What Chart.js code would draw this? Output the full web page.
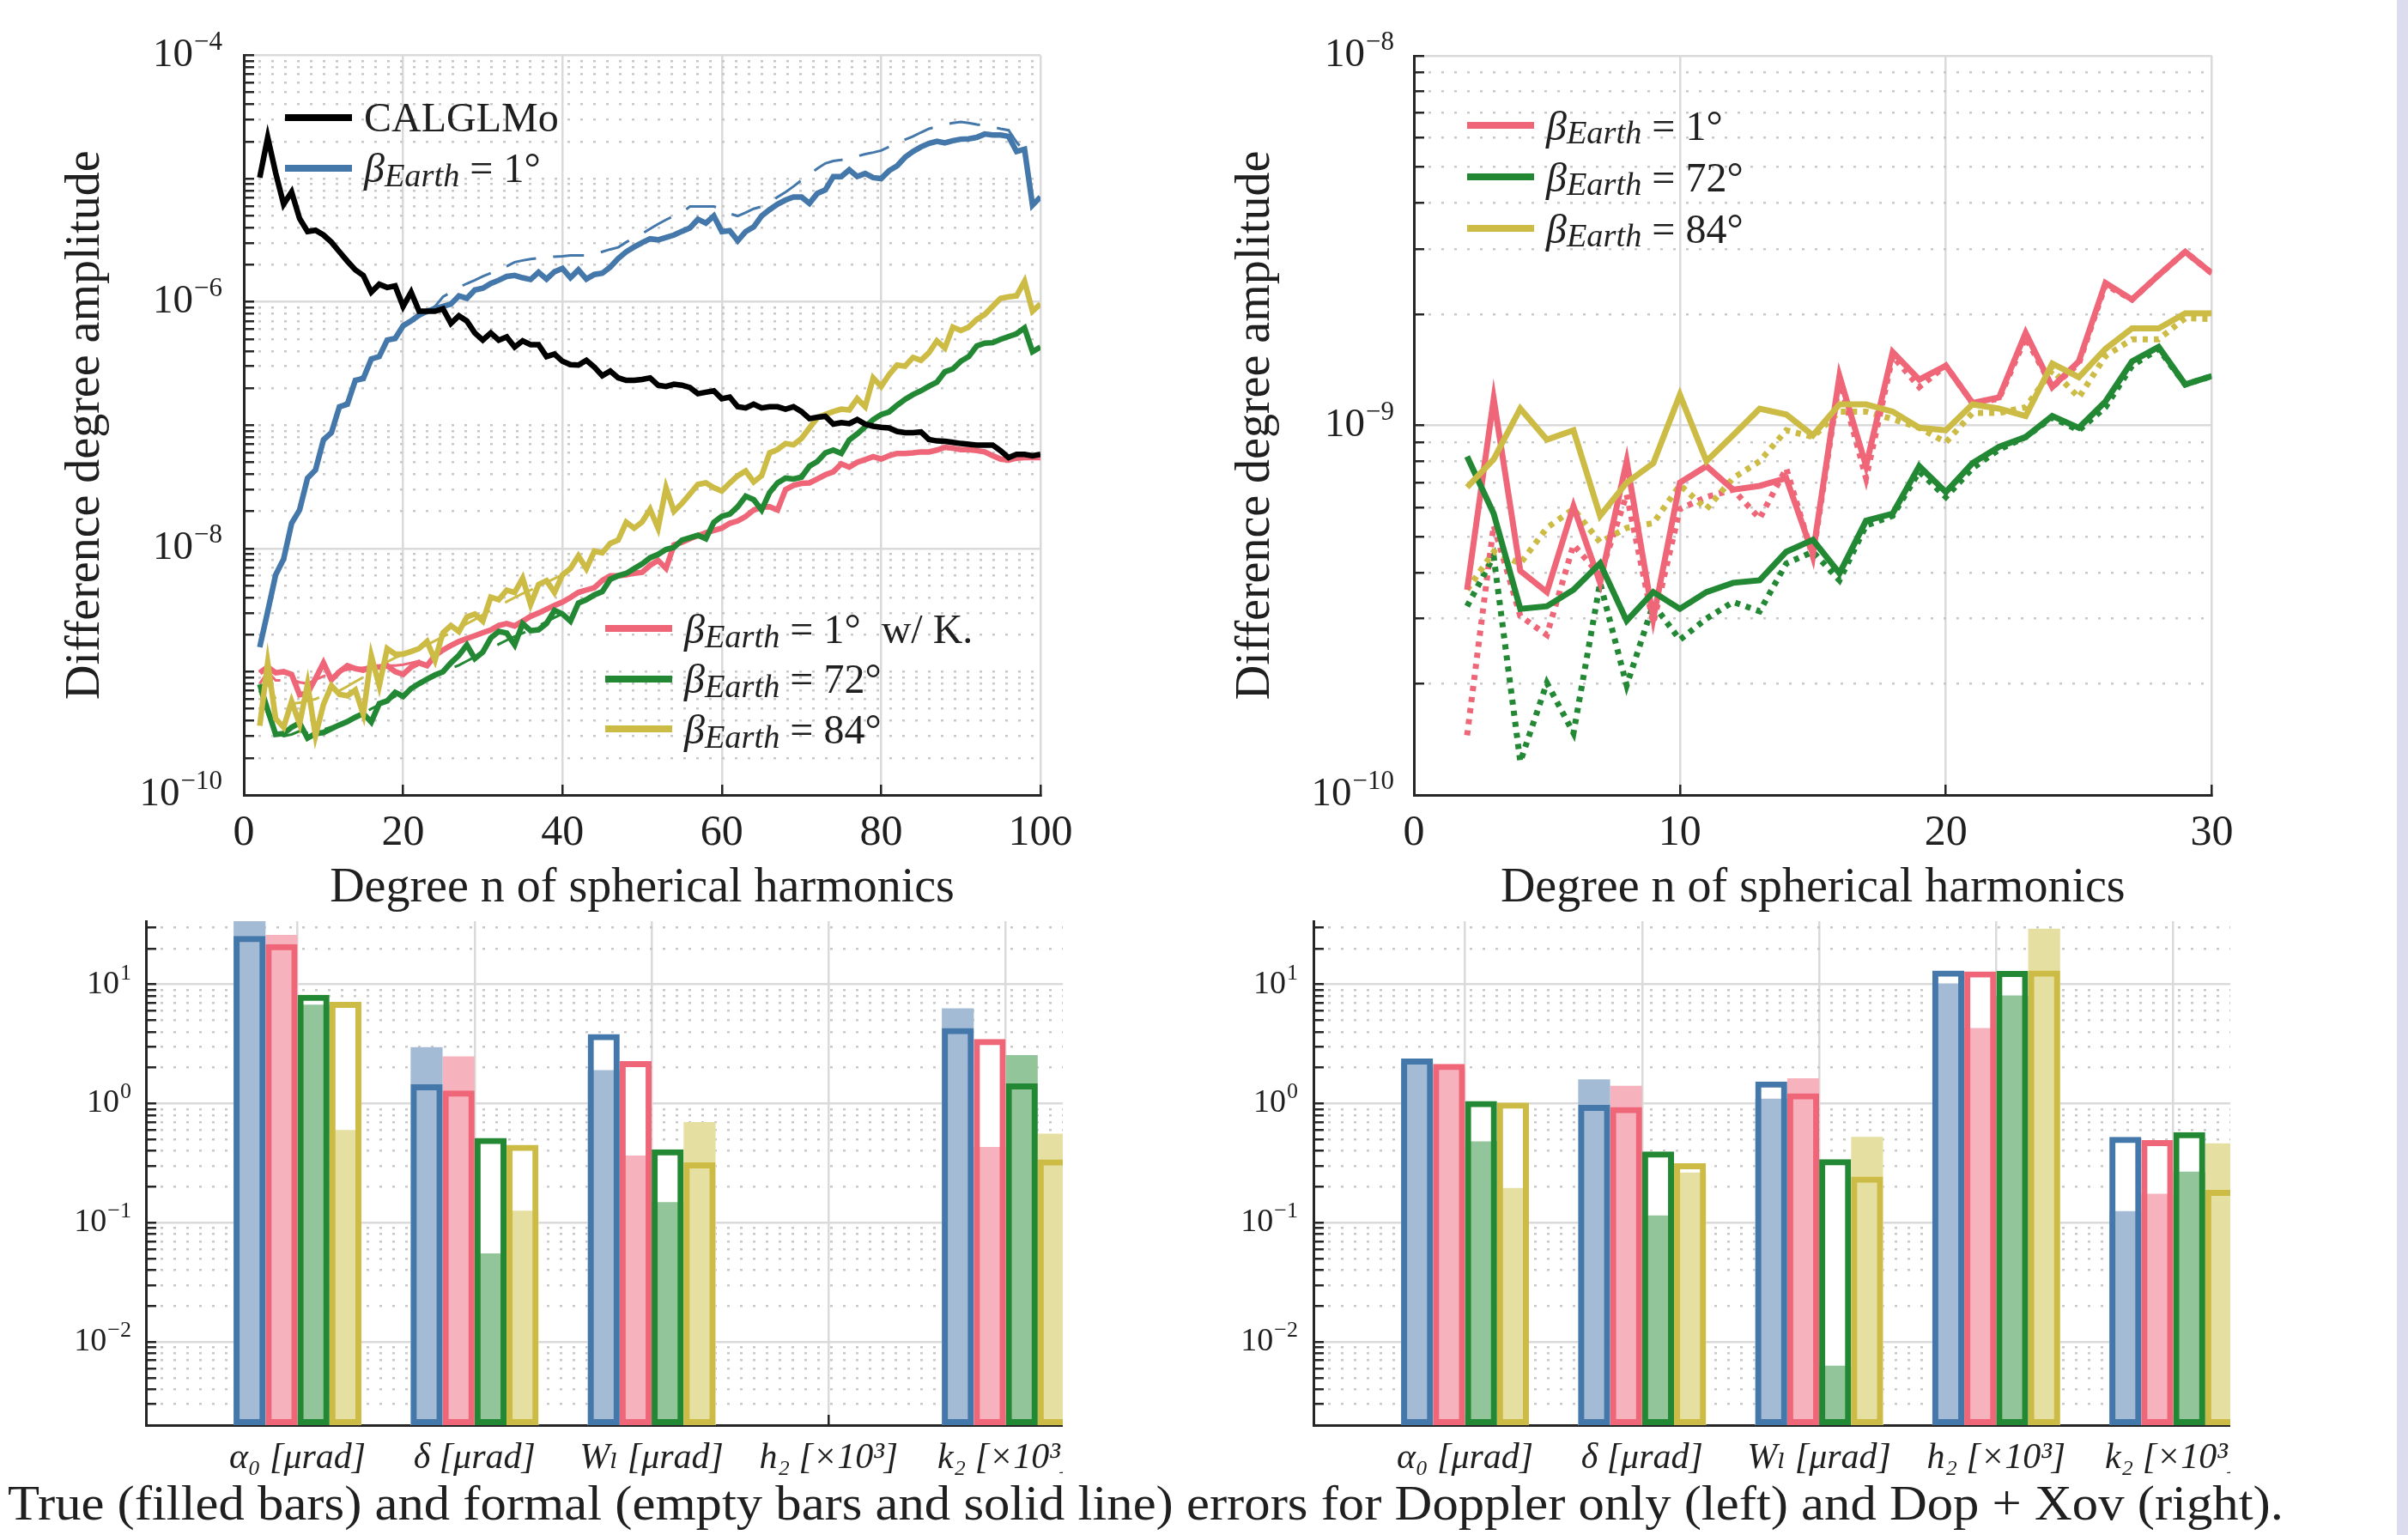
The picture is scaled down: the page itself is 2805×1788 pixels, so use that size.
<!DOCTYPE html>
<html>
<head>
<meta charset="utf-8">
<title>Difference degree amplitudes and parameter errors</title>
<script src="https://cdn.jsdelivr.net/npm/chart.js@4.4.1/dist/chart.umd.min.js"></script>
<style>
  html, body { margin: 0; padding: 0; }
  body { width: 2805px; height: 1788px; position: relative; overflow: hidden; background: #fff;
         font-family: "Liberation Serif", "DejaVu Serif", serif; color: #1f1f1f; }
  canvas { position: absolute; }
  #topLeft { left: 0; top: 0; }
  #topRight { left: 1400px; top: 0; }
  #bottomLeft { left: 0; top: 1060px; }
  #bottomRight { left: 1400px; top: 1060px; }
  .legend { position: absolute; font-size: 48px; }
  .legend .row { display: flex; align-items: center; white-space: nowrap; }
  .legend .swatch { width: 78px; height: 8px; margin-right: 14px; flex: none; }
  .legend sub { font-size: 0.8em; position: relative; top: 0.22em; vertical-align: baseline; line-height: 0; }
  #legendA1 { left: 332px; top: 107px; }
  #legendA1 .row { height: 59px; }
  #legendA2 { left: 705px; top: 703px; }
  #legendA2 .row { height: 58.5px; }
  #legendB { left: 1709px; top: 116px; }
  #legendB .row { height: 60px; }
  #caption { position: absolute; left: 9px; top: 1723px; font-size: 57px; line-height: 56px;
             white-space: nowrap; transform-origin: left top; }
  #edge { position: absolute; left: 2792px; top: 0; width: 13px; height: 1788px; background: #dcdcee; }
</style>
</head>
<body>
<canvas id="topLeft" width="1260" height="1080"></canvas>
<canvas id="topRight" width="1250" height="1080"></canvas>
<canvas id="bottomLeft" width="1238" height="680"></canvas>
<canvas id="bottomRight" width="1198" height="680"></canvas>

<div class="legend" id="legendA1">
  <div class="row"><span class="swatch" style="background:#000"></span>CALGLMo</div>
  <div class="row"><span class="swatch" style="background:#4477aa"></span><i>β</i><sub><i>Earth</i></sub>&nbsp;=&nbsp;1°</div>
</div>
<div class="legend" id="legendA2">
  <div class="row"><span class="swatch" style="background:#ee6677"></span><i>β</i><sub><i>Earth</i></sub>&nbsp;=&nbsp;1°&nbsp; w/ K.</div>
  <div class="row"><span class="swatch" style="background:#228833"></span><i>β</i><sub><i>Earth</i></sub>&nbsp;=&nbsp;72°</div>
  <div class="row"><span class="swatch" style="background:#ccbb44"></span><i>β</i><sub><i>Earth</i></sub>&nbsp;=&nbsp;84°</div>
</div>
<div class="legend" id="legendB">
  <div class="row"><span class="swatch" style="background:#ee6677"></span><i>β</i><sub><i>Earth</i></sub>&nbsp;=&nbsp;1°</div>
  <div class="row"><span class="swatch" style="background:#228833"></span><i>β</i><sub><i>Earth</i></sub>&nbsp;=&nbsp;72°</div>
  <div class="row"><span class="swatch" style="background:#ccbb44"></span><i>β</i><sub><i>Earth</i></sub>&nbsp;=&nbsp;84°</div>
</div>
<div id="caption">True (filled bars) and formal (empty bars and solid line) errors for Doppler only (left) and Dop + Xov (right).</div>
<div id="edge"></div>

<script>
// ---- top left: degree amplitudes, Doppler only (n = 2..100) ----
const degreesA = [2,3,4,5,6,7,8,9,10,11,12,13,14,15,16,17,18,19,20,21,22,23,24,25,26,27,28,29,30,31,32,33,34,35,36,37,38,39,40,41,42,43,44,45,46,47,48,49,50,51,52,53,54,55,56,57,58,59,60,61,62,63,64,65,66,67,68,69,70,71,72,73,74,75,76,77,78,79,80,81,82,83,84,85,86,87,88,89,90,91,92,93,94,95,96,97,98,99,100];

const calglmo = [1.02e-5,2.16e-5,1.11e-5,6.2e-6,7.8e-6,4.76e-6,3.72e-6,3.81e-6,3.49e-6,3.05e-6,2.55e-6,2.14e-6,1.82e-6,1.64e-6,1.2e-6,1.39e-6,1.31e-6,1.35e-6,9.2e-7,1.2e-6,8.4e-7,8.4e-7,8.4e-7,8.8e-7,6.7e-7,7.7e-7,7.0e-7,5.6e-7,4.9e-7,5.6e-7,4.9e-7,5.2e-7,
  4.3e-7,4.83e-7,4.5e-7,4.5e-7,3.6e-7,3.77e-7,3.3e-7,3.1e-7,3.07e-7,3.36e-7,2.96e-7,2.52e-7,2.75e-7,2.42e-7,2.31e-7,2.31e-7,2.35e-7,2.42e-7,2.11e-7,2.06e-7,2.15e-7,2.11e-7,2.02e-7,1.8e-7,1.85e-7,1.9e-7,1.64e-7,1.69e-7,1.41e-7,1.38e-7,1.48e-7,1.38e-7,1.41e-7,
  1.41e-7,1.35e-7,1.41e-7,1.29e-7,1.13e-7,1.16e-7,1.18e-7,1.02e-7,1.05e-7,1.03e-7,1.11e-7,1.02e-7,9.8e-8,9.6e-8,9.5e-8,8.9e-8,8.7e-8,8.7e-8,8.8e-8,7.65e-8,7.45e-8,7.4e-8,7.25e-8,7.1e-8,7.0e-8,6.9e-8,6.9e-8,6.9e-8,6.2e-8,5.45e-8,5.8e-8,5.8e-8,5.65e-8,5.8e-8];

const beta1True = [1.58e-9,3.08e-9,6.1e-9,8.2e-9,1.6e-8,2.05e-8,3.72e-8,4.33e-8,7.6e-8,8.7e-8,1.41e-7,1.48e-7,2.31e-7,2.39e-7,3.44e-7,3.6e-7,4.9e-7,5.05e-7,6.4e-7,7.0e-7,7.8e-7,8.4e-7,8.8e-7,9.2e-7,9.6e-7,1.12e-6,1.07e-6,1.25e-6,1.29e-6,1.41e-6,1.5e-6,1.61e-6,1.64e-6,
  1.57e-6,1.52e-6,1.74e-6,1.53e-6,1.76e-6,1.87e-6,1.57e-6,1.82e-6,1.53e-6,1.67e-6,1.71e-6,1.92e-6,2.25e-6,2.55e-6,2.79e-6,3.03e-6,3.25e-6,3.19e-6,3.33e-6,3.49e-6,3.74e-6,3.98e-6,4.68e-6,4.36e-6,4.98e-6,3.72e-6,3.78e-6,3.13e-6,3.72e-6,4.06e-6,4.98e-6,5.6e-6,
  6.2e-6,6.7e-6,7.1e-6,7.1e-6,6.3e-6,7.6e-6,8.1e-6,1.04e-5,1.04e-5,1.18e-5,1.04e-5,1.1e-5,1.02e-5,1.0e-5,1.16e-5,1.27e-5,1.49e-5,1.66e-5,1.81e-5,1.93e-5,2.01e-5,1.95e-5,2.03e-5,2.09e-5,2.1e-5,2.16e-5,2.3e-5,2.26e-5,2.26e-5,2.2e-5,1.66e-5,1.73e-5,6.1e-6,7.1e-6];

const beta1Formal = [1.7e-9,3.2e-9,6.1e-9,8.6e-9,1.6e-8,2.1e-8,3.7e-8,4.5e-8,7.6e-8,9.0e-8,1.41e-7,1.55e-7,2.31e-7,2.5e-7,3.44e-7,3.7e-7,4.9e-7,5.2e-7,6.4e-7,7.0e-7,7.8e-7,8.4e-7,
  9.2e-7,1.1e-6,1.2e-6,1.31e-6,1.41e-6,1.5e-6,1.61e-6,1.71e-6,1.84e-6,1.95e-6,2.1e-6,2.17e-6,2.23e-6,2.27e-6,2.29e-6,2.33e-6,2.35e-6,2.38e-6,2.38e-6,2.38e-6,
  2.46e-6,2.55e-6,2.67e-6,2.77e-6,3.05e-6,3.33e-6,3.58e-6,3.92e-6,4.28e-6,4.64e-6,4.98e-6,5.3e-6,5.94e-6,5.94e-6,5.94e-6,5.94e-6,5.69e-6,5.2e-6,4.98e-6,5.3e-6,
  5.69e-6,5.94e-6,6.34e-6,7.1e-6,7.78e-6,8.65e-6,9.7e-6,1.08e-5,1.21e-5,1.33e-5,1.39e-5,1.42e-5,1.46e-5,1.52e-5,1.58e-5,1.63e-5,1.69e-5,1.81e-5,1.95e-5,2.07e-5,
  2.2e-5,2.37e-5,2.54e-5,2.65e-5,2.75e-5,2.83e-5,2.88e-5,2.83e-5,2.75e-5,2.7e-5,2.63e-5,2.54e-5,2.47e-5,1.98e-5,1.66e-5,7.4e-6,8.1e-6];

const beta1KTrue = [9.8e-10,1.09e-9,9.8e-10,1.0e-9,9.5e-10,6.5e-10,6.7e-10,8.8e-10,1.18e-9,8.6e-10,1.0e-9,1.12e-9,1.06e-9,1.03e-9,1.09e-9,1.09e-9,1.12e-9,1.0e-9,9.5e-10,1.09e-9,1.18e-9,1.12e-9,1.35e-9,1.5e-9,1.63e-9,1.76e-9,1.86e-9,1.96e-9,2.07e-9,2.18e-9,2.37e-9,2.46e-9,
  2.35e-9,2.57e-9,2.81e-9,2.99e-9,3.21e-9,3.45e-9,3.67e-9,4.0e-9,4.4e-9,4.6e-9,4.8e-9,5.5e-9,6.0e-9,6.0e-9,6.1e-9,6.3e-9,6.4e-9,7.3e-9,8.0e-9,6.9e-9,1.07e-8,1.12e-8,1.2e-8,1.27e-8,1.34e-8,1.4e-8,1.46e-8,1.6e-8,1.67e-8,1.82e-8,2.05e-8,2.16e-8,2.18e-8,
  2.05e-8,3.0e-8,3.25e-8,3.37e-8,3.4e-8,3.66e-8,3.96e-8,4.18e-8,4.86e-8,4.56e-8,5.0e-8,5.26e-8,5.55e-8,5.31e-8,5.65e-8,5.9e-8,5.9e-8,5.96e-8,6.07e-8,6.07e-8,6.28e-8,6.62e-8,6.5e-8,6.34e-8,6.34e-8,6.22e-8,6.07e-8,5.65e-8,5.31e-8,5.21e-8,5.4e-8,5.45e-8,5.45e-8,5.45e-8];
const beta1KFormal = [8.0e-10,1.0e-9,8.5e-10,8.5e-10,8.8e-10,8.2e-10,8.0e-10,8.6e-10,9.2e-10,9.6e-10,1.0e-9,1.04e-9,1.06e-9,1.08e-9,1.1e-9,1.1e-9,1.12e-9,1.12e-9,1.14e-9,1.18e-9,1.22e-9,1.3e-9,1.38e-9,1.48e-9,1.6e-9,1.72e-9,1.84e-9,1.95e-9,2.05e-9,2.18e-9,2.32e-9,2.45e-9,2.55e-9,2.65e-9,2.8e-9,3.0e-9,3.2e-9,3.45e-9,3.7e-9];

const beta72True = [7.9e-10,4.9e-10,3.1e-10,3.15e-10,3.54e-10,3.84e-10,2.89e-10,3.15e-10,3.21e-10,3.45e-10,3.7e-10,3.94e-10,4.27e-10,4.58e-10,3.9e-10,5.5e-10,5.8e-10,6.8e-10,6.3e-10,7.3e-10,8.0e-10,8.7e-10,9.4e-10,1.0e-9,1.18e-9,1.36e-9,1.65e-9,1.28e-9,1.44e-9,1.88e-9,2.12e-9,2.06e-9,
  1.65e-9,2.46e-9,2.15e-9,2.19e-9,2.46e-9,3.15e-9,2.94e-9,2.57e-9,3.6e-9,3.84e-9,4.2e-9,4.47e-9,5.63e-9,6.0e-9,6.27e-9,6.86e-9,7.5e-9,8.4e-9,8.95e-9,9.8e-9,1.02e-8,1.17e-8,1.22e-8,1.28e-8,1.2e-8,1.63e-8,1.82e-8,1.9e-8,2.18e-8,2.65e-8,2.49e-8,2.05e-8,2.84e-8,
  3.4e-8,3.72e-8,3.66e-8,3.79e-8,4.65e-8,5.08e-8,5.96e-8,6.28e-8,5.9e-8,7.6e-8,8.5e-8,9.7e-8,1.11e-7,1.22e-7,1.28e-7,1.45e-7,1.62e-7,1.77e-7,1.9e-7,2.07e-7,2.23e-7,2.71e-7,2.86e-7,3.3e-7,3.6e-7,4.39e-7,4.63e-7,4.67e-7,4.97e-7,5.24e-7,5.52e-7,6.15e-7,3.94e-7,4.3e-7];
const beta72Formal = [7.0e-10,4.5e-10,3.2e-10,3.0e-10,3.1e-10,3.3e-10,3.2e-10,3.3e-10,3.4e-10,3.55e-10,3.7e-10,4.0e-10,4.3e-10,4.6e-10,5.0e-10,5.4e-10,5.8e-10,6.3e-10,6.8e-10,7.3e-10,7.9e-10,8.6e-10,9.2e-10,9.9e-10,1.06e-9,1.13e-9,1.22e-9,1.32e-9,1.42e-9,1.53e-9,1.67e-9,1.8e-9,1.93e-9,2.05e-9,2.2e-9,2.35e-9,2.55e-9,2.75e-9,2.95e-9];

const beta84True = [3.64e-10,1.18e-9,4.16e-10,3.54e-10,5.73e-10,3.78e-10,7.9e-10,3.02e-10,5.43e-10,7.7e-10,6.55e-10,6.38e-10,7.1e-10,4.51e-10,1.35e-9,7.7e-10,1.54e-9,1.39e-9,1.39e-9,1.46e-9,1.54e-9,1.76e-9,1.24e-9,2.07e-9,2.37e-9,2.12e-9,2.78e-9,2.94e-9,2.57e-9,4.02e-9,3.84e-9,4.59e-9,
  4.39e-9,5.74e-9,3.52e-9,5.1e-9,5.48e-9,4.39e-9,6.1e-9,6.86e-9,8.7e-9,6.86e-9,9.5e-9,9.2e-9,1.1e-8,1.17e-8,1.63e-8,1.46e-8,1.64e-8,2.08e-8,1.46e-8,3.11e-8,2.0e-8,2.32e-8,2.77e-8,3.31e-8,3.4e-8,3.11e-8,2.92e-8,3.4e-8,3.89e-8,4.25e-8,3.46e-8,3.89e-8,5.96e-8,
  6.34e-8,7.1e-8,6.93e-8,7.8e-8,9.5e-8,1.15e-7,1.22e-7,1.29e-7,1.35e-7,1.33e-7,1.64e-7,1.41e-7,2.42e-7,2.06e-7,2.57e-7,3.07e-7,3.01e-7,3.54e-7,3.36e-7,3.87e-7,4.83e-7,4.23e-7,6.25e-7,5.87e-7,6.25e-7,7.2e-7,7.9e-7,9.2e-7,1.07e-6,1.1e-6,1.12e-6,1.47e-6,8.4e-7,9.6e-7];
const beta84Formal = [6.5e-10,8.0e-10,6.0e-10,5.2e-10,5.5e-10,5.6e-10,5.8e-10,6.0e-10,6.4e-10,6.8e-10,7.0e-10,7.6e-10,8.3e-10,9.0e-10,1.0e-9,1.1e-9,1.2e-9,1.3e-9,1.38e-9,1.46e-9,1.55e-9,1.65e-9,1.78e-9,1.92e-9,2.08e-9,2.25e-9,2.45e-9,2.65e-9,2.9e-9,3.15e-9,3.4e-9,3.7e-9,4.0e-9,4.3e-9,4.6e-9,4.9e-9,5.3e-9,5.7e-9,6.1e-9];

// ---- top right: degree amplitudes, Dop + Xov (n = 2..30) ----
const degreesB = [2,3,4,5,6,7,8,9,10,11,12,13,14,15,16,17,18,19,20,21,22,23,24,25,26,27,28,29,30];
const xovBeta1 = [3.59e-10,1.18e-9,4.04e-10,3.54e-10,6.04e-10,3.75e-10,8.0e-10,3.0e-10,7.0e-10,7.76e-10,6.7e-10,6.86e-10,7.2e-10,4.49e-10,1.36e-9,7.76e-10,1.58e-9,1.33e-9,1.45e-9,1.15e-9,1.19e-9,1.78e-9,1.27e-9,1.49e-9,2.43e-9,2.19e-9,2.55e-9,2.95e-9,2.58e-9];
const xovBeta1Dot = [1.45e-10,5.36e-10,3.05e-10,2.71e-10,4.75e-10,3.93e-10,6.5e-10,2.92e-10,5.94e-10,6.4e-10,6.7e-10,5.6e-10,7.65e-10,4.42e-10,1.33e-9,7.2e-10,1.54e-9,1.27e-9,1.45e-9,1.15e-9,1.18e-9,1.73e-9,1.27e-9,1.47e-9,2.4e-9,2.19e-9,2.55e-9,2.95e-9,2.58e-9];
const xovBeta72 = [8.24e-10,5.77e-10,3.19e-10,3.24e-10,3.59e-10,4.23e-10,2.96e-10,3.54e-10,3.19e-10,3.54e-10,3.75e-10,3.81e-10,4.55e-10,4.9e-10,3.98e-10,5.52e-10,5.77e-10,7.76e-10,6.6e-10,7.9e-10,8.75e-10,9.3e-10,1.06e-9,9.85e-10,1.16e-9,1.49e-9,1.63e-9,1.29e-9,1.36e-9];
const xovBeta72Dot = [3.24e-10,4.42e-10,1.23e-10,2.01e-10,1.47e-10,3.75e-10,1.98e-10,3.28e-10,2.63e-10,3.0e-10,3.33e-10,3.14e-10,4.23e-10,4.55e-10,3.81e-10,5.36e-10,5.69e-10,7.5e-10,6.4e-10,7.65e-10,8.6e-10,9.3e-10,1.05e-9,9.7e-10,1.12e-9,1.45e-9,1.61e-9,1.29e-9,1.36e-9];
const xovBeta84 = [6.8e-10,8.1e-10,1.11e-9,9.15e-10,9.7e-10,5.69e-10,7.0e-10,7.9e-10,1.21e-9,8.0e-10,9.4e-10,1.11e-9,1.07e-9,9.4e-10,1.14e-9,1.14e-9,1.09e-9,9.85e-10,9.7e-10,1.14e-9,1.11e-9,1.06e-9,1.47e-9,1.35e-9,1.61e-9,1.83e-9,1.83e-9,2.01e-9,2.01e-9];
const xovBeta84Dot = [3.59e-10,4.55e-10,4.23e-10,5.28e-10,5.94e-10,4.83e-10,5.28e-10,5.44e-10,6.9e-10,5.94e-10,7.2e-10,8.0e-10,9.7e-10,9.3e-10,1.09e-9,1.09e-9,1.04e-9,9.85e-10,9.0e-10,1.08e-9,1.08e-9,1.12e-9,1.41e-9,1.19e-9,1.54e-9,1.71e-9,1.71e-9,1.95e-9,1.94e-9];

// ---- bottom: parameter errors (null = not estimated) ----
const paramLabels = ['α₀ [μrad]', 'δ [μrad]', 'Wₗ [μrad]', 'h₂ [×10³]', 'k₂ [×10³]'];
const paramPos = [1, 2, 3, 4, 5];

const dopTrueBlue = [40, 2.98, 1.91, null, 6.3];
const dopTruePink = [26.1, 2.49, 0.367, null, 0.433];
const dopTrueGreen = [6.77, 0.0553, 0.149, null, 2.55];
const dopTrueYellow = [0.6, 0.126, 0.70, null, 0.56];
const dopFormalBlue = [25.5, 1.45, 3.83, null, 4.3];
const dopFormalPink = [21.8, 1.29, 2.27, null, 3.49];
const dopFormalGreen = [8.2, 0.514, 0.413, null, 1.48];
const dopFormalYellow = [7.15, 0.45, 0.321, null, 0.34];

const xovTrueBlue = [2.21, 1.6, 1.10, 10.2, 0.125];
const xovTruePink = [1.97, 1.41, 1.63, 4.3, 0.175];
const xovTrueGreen = [0.482, 0.115, 0.0063, 8.1, 0.268];
const xovTrueYellow = [0.196, 0.264, 0.526, 29.4, 0.464];
const xovFormalBlue = [2.39, 0.975, 1.53, 13.1, 0.526];
const xovFormalPink = [2.15, 0.937, 1.22, 12.9, 0.494];
const xovFormalGreen = [1.05, 0.397, 0.342, 13.0, 0.577];
const xovFormalYellow = [1.02, 0.316, 0.244, 13.1, 0.189];

// ---- styling ----
const BLUE = '#4477aa', PINK = '#ee6677', GREEN = '#228833', YELLOW = '#ccbb44';
const BLUE_L = '#a3bbd4', PINK_L = '#f6b3bd', GREEN_L = '#93c59a', YELLOW_L = '#e6dfa2';
const AXIS = '#262626', GRID = '#dadada', MINOR = '#c8c8c8', TEXT = '#1f1f1f';
const MINOR_DASH = [3, 12];
const FONT = '"Liberation Serif", "DejaVu Serif", serif';

Chart.defaults.font.family = FONT;
Chart.defaults.color = TEXT;
Chart.defaults.animation = false;
Chart.defaults.plugins.legend.display = false;
Chart.defaults.plugins.tooltip.enabled = false;

// draws "10" with a raised exponent beside each labelled decade of the y scale
const powerLabels = {
  id: 'powerLabels',
  afterDraw(chart, args, o) {
    const s = chart.scales.y;
    const ctx = chart.ctx;
    ctx.save();
    ctx.fillStyle = TEXT;
    ctx.textBaseline = 'middle';
    ctx.textAlign = 'right';
    for (const t of s.ticks) {
      if (!t.major) continue;
      const y = s.getPixelForValue(t.value);
      const exp = String(Math.round(Math.log10(t.value))).replace('-', '\u2212');
      const right = chart.chartArea.left - o.gap;
      ctx.font = o.sup + 'px ' + FONT;
      const w = ctx.measureText(exp).width;
      ctx.fillText(exp, right, y - o.raise);
      ctx.font = o.base + 'px ' + FONT;
      ctx.fillText('10', right - w - 1, y);
    }
    ctx.restore();
  }
};

function logTicks(minExp, maxExp, labelled, min, max) {
  const out = [];
  for (let e = minExp; e <= maxExp; e++) {
    for (let k = 1; k <= 9; k++) {
      const value = Number(k + 'e' + e);
      if (value >= min * 0.999 && value <= max * 1.001) {
        out.push({ value, major: k === 1 && labelled.includes(e) });
      }
    }
  }
  return out;
}

function logYAxis(o) {
  return {
    type: 'logarithmic', position: 'left', min: o.min, max: o.max, stacked: false,
    afterBuildTicks: s => { s.ticks = logTicks(o.minExp, o.maxExp, o.labelled, o.min, o.max); },
    afterFit: s => { s.width = o.width; s.paddingTop = 0; s.paddingBottom = 0; },
    ticks: { display: false, autoSkip: false },
    grid: { color: c => (c.tick && !c.tick.major) ? MINOR : GRID, lineWidth: 2.5,
            tickLength: -12, tickColor: AXIS, tickWidth: 2.5 },
    border: { color: AXIS, width: 3, dash: c => (c.tick && !c.tick.major) ? MINOR_DASH : [] },
    title: o.title ? { display: true, text: o.title, font: { size: 56 }, padding: { top: o.titlePad, bottom: 0 } }
                   : { display: false }
  };
}

function degreeXAxis(o) {
  return {
    type: 'linear', position: 'bottom', min: o.min, max: o.max,
    afterBuildTicks: s => { s.ticks = o.ticks.map(v => ({ value: v })); },
    afterFit: s => { s.height = o.height; s.paddingLeft = 0; s.paddingRight = 0; },
    ticks: { autoSkip: false, maxRotation: 0, minRotation: 0, padding: 27, font: { size: 50 } },
    grid: { color: GRID, lineWidth: 2.5, tickLength: -12, tickColor: AXIS, tickWidth: 2.5 },
    border: { color: AXIS, width: 3 },
    title: { display: true, text: 'Degree n of spherical harmonics', font: { size: 56 },
             padding: { top: 0, bottom: 11 } }
  };
}

function line(data, color, width, dash) {
  return { data, borderColor: color, backgroundColor: color, borderWidth: width, borderDash: dash || [],
           pointRadius: 0, tension: 0, fill: false, borderCapStyle: 'butt' };
}

// top left
new Chart(document.getElementById('topLeft'), {
  type: 'line',
  data: {
    labels: degreesA,
    datasets: [
      line(calglmo, '#000', 6.5),
      line(beta84True, YELLOW, 6.5),
      line(beta72True, GREEN, 6.5),
      line(beta1KTrue, PINK, 6.5),
      line(beta1True, BLUE, 6.5),
      line(beta84Formal, YELLOW, 3, [36, 20]),
      line(beta72Formal, GREEN, 3, [36, 20]),
      line(beta1KFormal, PINK, 3, [36, 20]),
      line(beta1Formal, BLUE, 3, [36, 20])
    ]
  },
  options: {
    responsive: false, devicePixelRatio: 1,
    layout: { padding: { left: 0, top: 64.5, right: 48, bottom: 0 } },
    plugins: { powerLabels: { base: 47, sup: 31, raise: 15, gap: 25 } },
    scales: {
      x: degreeXAxis({ min: 0, max: 100, ticks: [0, 20, 40, 60, 80, 100], height: 154 }),
      y: logYAxis({ min: 1e-10, max: 1e-4, minExp: -10, maxExp: -4, labelled: [-10, -8, -6, -4],
                    width: 284, title: 'Difference degree amplitude', titlePad: 67 })
    }
  },
  plugins: [powerLabels]
});

// top right
new Chart(document.getElementById('topRight'), {
  type: 'line',
  data: {
    labels: degreesB,
    datasets: [
      line(xovBeta84, YELLOW, 7),
      line(xovBeta72, GREEN, 7),
      line(xovBeta1, PINK, 7),
      line(xovBeta84Dot, YELLOW, 7, [6, 7]),
      line(xovBeta72Dot, GREEN, 7, [6, 7]),
      line(xovBeta1Dot, PINK, 7, [6, 7])
    ]
  },
  options: {
    responsive: false, devicePixelRatio: 1,
    layout: { padding: { left: 0, top: 65, right: 73.5, bottom: 0 } },
    plugins: { powerLabels: { base: 47, sup: 31, raise: 15, gap: 23 } },
    scales: {
      x: degreeXAxis({ min: 0, max: 30, ticks: [0, 10, 20, 30], height: 154 }),
      y: logYAxis({ min: 1e-10, max: 1e-8, minExp: -10, maxExp: -8, labelled: [-10, -9, -8],
                    width: 247, title: 'Difference degree amplitude', titlePad: 30 })
    }
  },
  plugins: [powerLabels]
});

// bottom bar charts: outline (formal) on top, light fill (true) below, white body at the back
function barDatasets(trueSets, formalSets) {
  const cols = [[BLUE, BLUE_L, 'b'], [PINK, PINK_L, 'r'], [GREEN, GREEN_L, 'g'], [YELLOW, YELLOW_L, 'y']];
  const outline = cols.map((c, i) => ({ data: formalSets[i], stack: c[2], backgroundColor: 'rgba(0,0,0,0)',
                                        borderColor: c[0], borderWidth: 7, borderSkipped: false }));
  const fill = cols.map((c, i) => ({ data: trueSets[i], stack: c[2], backgroundColor: c[1], borderWidth: 0 }));
  const body = cols.map((c, i) => ({ data: formalSets[i], stack: c[2], backgroundColor: '#ffffff', borderWidth: 0 }));
  return outline.concat(fill, body);
}

function barOptions(yWidth, gap) {
  return {
    responsive: false, devicePixelRatio: 1,
    layout: { padding: { left: 0, top: 13, right: 0, bottom: 0 } },
    datasets: { bar: { categoryPercentage: 0.722, barPercentage: 1 } },
    plugins: { powerLabels: { base: 38, sup: 26, raise: 13, gap } },
    scales: {
      x: {
        type: 'linear', position: 'bottom', min: 0.144, max: 5.322, stacked: true, offset: false,
        afterBuildTicks: s => { s.ticks = paramPos.map(v => ({ value: v })); },
        afterFit: s => { s.height = 80; s.paddingLeft = 0; s.paddingRight = 0; },
        ticks: { autoSkip: false, maxRotation: 0, minRotation: 0, padding: 26,
                 font: { size: 42, style: 'italic' }, callback: v => paramLabels[paramPos.indexOf(v)] },
        grid: { offset: false, color: GRID, lineWidth: 2.5, tickLength: -12, tickColor: AXIS, tickWidth: 2.5 },
        border: { color: AXIS, width: 3 }
      },
      y: logYAxis({ min: 0.002, max: 34, minExp: -3, maxExp: 1, labelled: [-2, -1, 0, 1], width: yWidth })
    }
  };
}

new Chart(document.getElementById('bottomLeft'), {
  type: 'bar',
  data: {
    labels: paramPos,
    datasets: barDatasets([dopTrueBlue, dopTruePink, dopTrueGreen, dopTrueYellow],
                          [dopFormalBlue, dopFormalPink, dopFormalGreen, dopFormalYellow])
  },
  options: barOptions(170, 17),
  plugins: [powerLabels]
});

new Chart(document.getElementById('bottomRight'), {
  type: 'bar',
  data: {
    labels: paramPos,
    datasets: barDatasets([xovTrueBlue, xovTruePink, xovTrueGreen, xovTrueYellow],
                          [xovFormalBlue, xovFormalPink, xovFormalGreen, xovFormalYellow])
  },
  options: barOptions(130, 18),
  plugins: [powerLabels]
});

// caption stretched to the width it spans in the figure
const caption = document.getElementById('caption');
caption.style.transform = 'scaleX(' + (2651 / caption.offsetWidth) + ')';
</script>
</body>
</html>
